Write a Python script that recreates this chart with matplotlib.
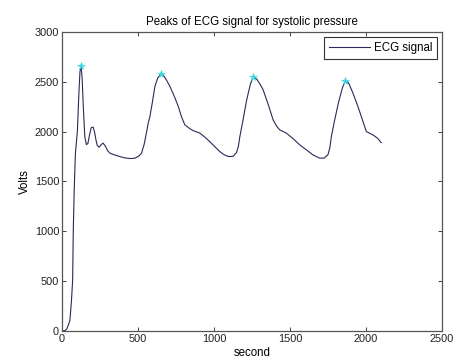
import matplotlib.pyplot as plt
import numpy as np

plt.rcParams['font.family'] = ['Liberation Sans', 'DejaVu Sans']

# ECG trace
t = [0, 20, 31, 42, 52, 62, 70, 74, 80, 88, 95, 101, 110, 118, 125, 132, 140, 150,
     160, 170, 180, 192, 205, 215, 223, 232, 245, 258, 270, 283, 300, 315, 330,
     350, 381, 405, 425, 450, 480, 505, 523, 540, 555, 567, 578, 595, 611, 630,
     650, 670, 690, 710, 740, 765, 786, 808, 841, 863, 907, 940, 972, 1005, 1038,
     1060, 1082, 1100, 1125, 1148, 1160, 1170, 1191, 1215, 1240, 1257, 1280,
     1305, 1323, 1355, 1389, 1410, 1432, 1476, 1520, 1564, 1610, 1651, 1695,
     1725, 1750, 1762, 1772, 1794, 1820, 1845, 1864, 1885, 1914, 1945, 1969,
     2002, 2045, 2075, 2100]
volts = [0, 5, 20, 60, 110, 300, 512, 1000, 1400, 1780, 1900, 2000, 2350, 2600,
         2660, 2550, 2250, 1950, 1870, 1880, 1960, 2040, 2045, 1990, 1920, 1860,
         1845, 1870, 1885, 1860, 1810, 1784, 1775, 1765, 1750, 1740, 1734, 1730,
         1734, 1755, 1784, 1870, 1985, 2085, 2150, 2300, 2453, 2540, 2577, 2560,
         2510, 2453, 2350, 2252, 2150, 2068, 2030, 2010, 1985, 1945, 1900, 1850,
         1800, 1775, 1757, 1750, 1752, 1790, 1850, 1951, 2118, 2320, 2480, 2547,
         2530, 2470, 2420, 2280, 2118, 2060, 2018, 1985, 1930, 1867, 1815, 1767,
         1734, 1735, 1770, 1840, 1951, 2118, 2300, 2440, 2513, 2490, 2387, 2260,
         2152, 2001, 1968, 1935, 1890]

# detected systolic peaks
peak_t = [125, 650, 1257, 1864]
peak_v = [2660, 2577, 2547, 2513]

fig = plt.figure(figsize=(4.54, 3.61), dpi=100)
ax = fig.add_axes([0.1366, 0.0831, 0.8370, 0.8283])

ax.plot(t, volts, color='#2a2a58', linewidth=0.8, label='ECG signal')
ax.plot(peak_t, peak_v, linestyle='none', marker='*', color='#3ad6e0',
        markersize=5.5, markeredgewidth=0.5)

ax.set_xlim(0, 2500)
ax.set_ylim(0, 3000)
ax.set_xticks(np.arange(0, 2501, 500))
ax.set_yticks(np.arange(0, 3001, 500))
ax.tick_params(direction='in', top=True, right=True, length=3, width=0.6,
               labelsize=7.9, colors='#222222', pad=2)
for s in ax.spines.values():
    s.set_color('#555555')
    s.set_linewidth(0.9)

ax.set_title('Peaks of ECG signal for systolic pressure', fontsize=8.3, pad=5)
ax.set_xlabel('second', fontsize=8.3, labelpad=2)
ax.set_ylabel('Volts', fontsize=8.3, labelpad=3)

leg = ax.legend(loc='upper right', fontsize=8.3, fancybox=False, framealpha=1,
                borderaxespad=0.4, handlelength=3.6, borderpad=0.45,
                handletextpad=0.3)
leg.get_frame().set_edgecolor('#333333')
leg.get_frame().set_linewidth(0.8)

fig.savefig('out.png', dpi=100)
